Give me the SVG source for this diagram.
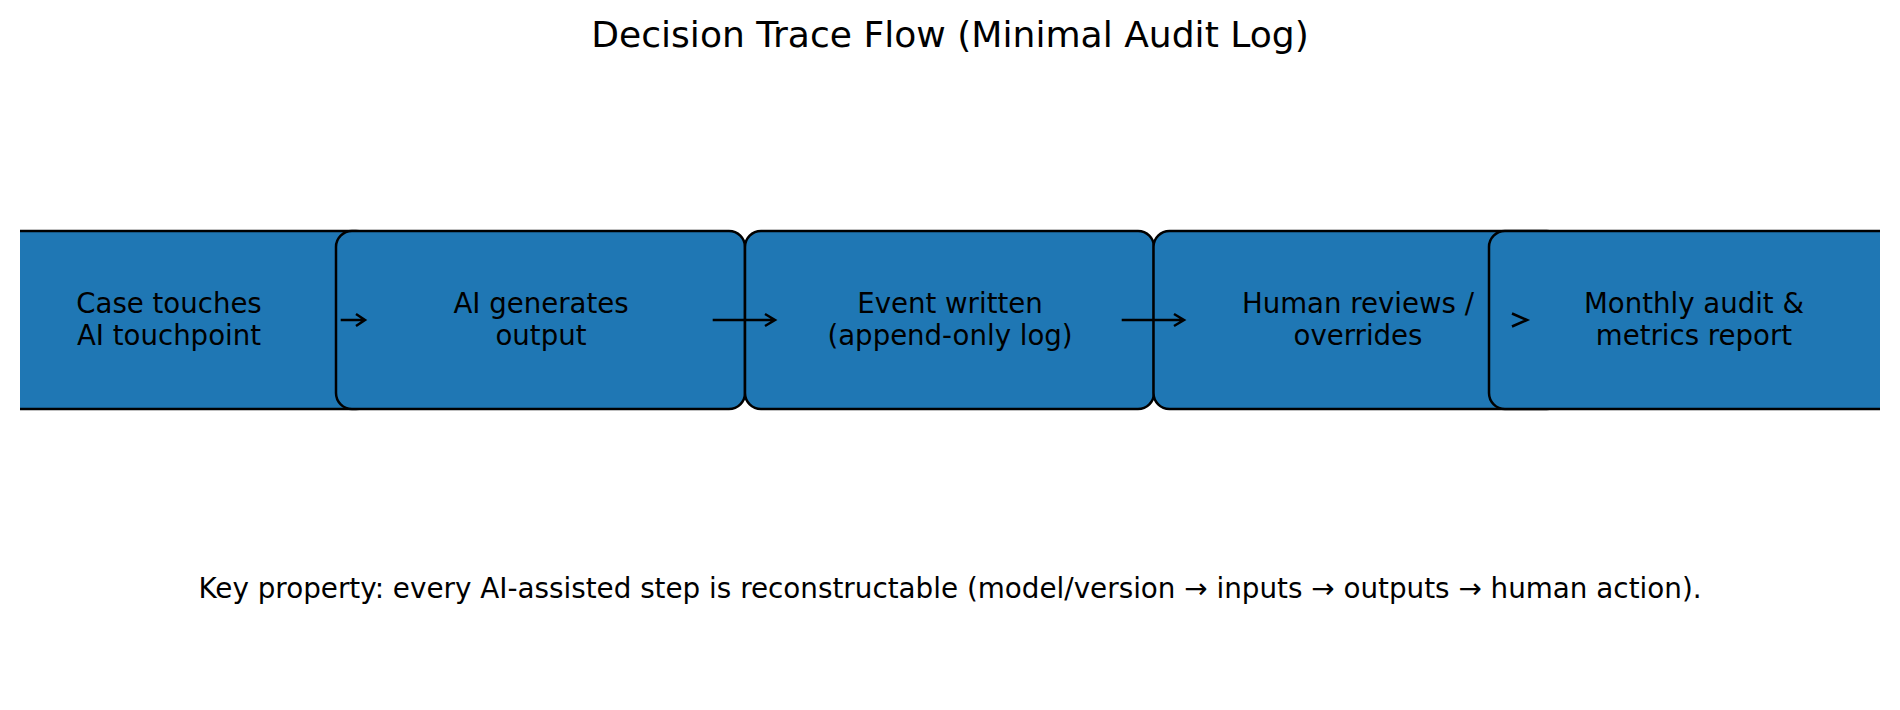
<svg xmlns="http://www.w3.org/2000/svg" width="1900" height="710" viewBox="0 0 1900 710">
<style>
.box{fill:#1f77b4;stroke:#000;stroke-width:2.5}
.lbl{font-family:"DejaVu Sans",sans-serif;font-size:27.6px;fill:#000;text-anchor:middle}
.foot{font-family:"DejaVu Sans",sans-serif;font-size:27.8px;fill:#000;text-anchor:middle}
.title{font-family:"DejaVu Sans",sans-serif;font-size:36.1px;fill:#000;text-anchor:middle}
.arr{fill:none;stroke:#000;stroke-width:2.5}
</style>
<defs>
<clipPath id="ax"><rect x="20" y="0" width="1860" height="710"/></clipPath>
</defs>
<rect width="1900" height="710" fill="#fff"/>
<text class="title" x="950" y="47">Decision Trace Flow (Minimal Audit Log)</text>
<g clip-path="url(#ax)">
<g id="n1"><rect class="box" x="-36" y="231" width="408" height="178" rx="16"/>
<text class="lbl" x="169" y="312.7">Case touches</text><text class="lbl" x="169" y="345">AI touchpoint</text></g>
<g id="n2"><rect class="box" x="336" y="231" width="409" height="178" rx="16"/>
<text class="lbl" x="541" y="312.7">AI generates</text><text class="lbl" x="541" y="345">output</text></g>
<g id="n3"><rect class="box" x="745" y="231" width="409" height="178" rx="16"/>
<text class="lbl" x="950" y="312.7">Event written</text><text class="lbl" x="950" y="345">(append-only log)</text></g>
<g id="n4"><rect class="box" x="1153.5" y="231" width="409" height="178" rx="16"/>
<text class="lbl" x="1358" y="312.7">Human reviews /</text><text class="lbl" x="1358" y="345">overrides</text></g>
<g id="n5"><rect class="box" x="1489" y="231" width="409" height="178" rx="16"/>
<text class="lbl" x="1694" y="312.7">Monthly audit &amp;</text><text class="lbl" x="1694" y="345">metrics report</text></g>
<g id="connectors">
<path class="arr" d="M340.7,320 H365 M356,314 L365,320 L356,326"/>
<path class="arr" d="M712.7,320 H775 M765,314 L775,320 L765,326"/>
<path class="arr" d="M1121.7,320 H1184 M1174,314 L1184,320 L1174,326"/>
<path class="arr" d="M1512,313.5 L1527,320 L1512,326.5"/>
</g>
</g>
<text class="foot" x="950" y="598">Key property: every AI-assisted step is reconstructable (model/version → inputs → outputs → human action).</text>
</svg>
